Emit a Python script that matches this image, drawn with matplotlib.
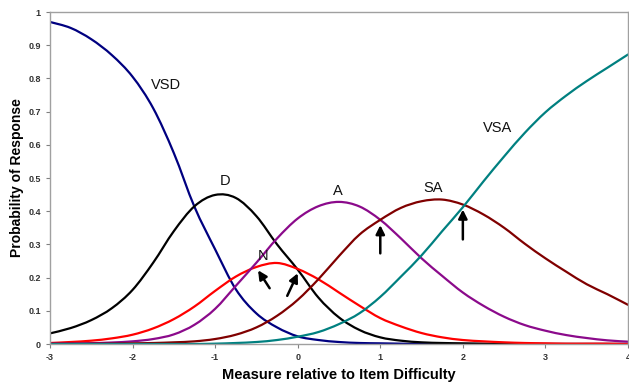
import matplotlib
matplotlib.use('Agg')
import matplotlib.pyplot as plt
from matplotlib.path import Path
from matplotlib.patches import PathPatch

plt.rcParams['font.family'] = ['Liberation Sans', 'DejaVu Sans']
plt.rcParams['axes.unicode_minus'] = False

# measure (logits) at which the curves were read
measure = [-3, -2.75, -2.5, -2.25, -2, -1.75, -1.5, -1.25, -1, -0.75, -0.5, -0.25,
           0, 0.25, 0.5, 0.75, 1, 1.25, 1.5, 1.75, 2, 2.25, 2.5, 2.75, 3, 3.25,
           3.5, 3.75, 4]

p_vsd = [0.97, 0.952, 0.918, 0.87, 0.805, 0.71, 0.575, 0.413, 0.285, 0.165, 0.092,
         0.05, 0.023, 0.012, 0.006, 0.003, 0.002, 0.001, 0, 0, 0, 0, 0, 0, 0, 0,
         0, 0, 0]
p_d = [0.032, 0.048, 0.072, 0.108, 0.163, 0.245, 0.34, 0.415, 0.449, 0.44, 0.385,
       0.3, 0.224, 0.14, 0.08, 0.042, 0.02, 0.01, 0.005, 0.003, 0.002, 0.001, 0, 0,
       0, 0, 0, 0, 0]
p_n = [0.003, 0.006, 0.01, 0.017, 0.028, 0.047, 0.075, 0.113, 0.16, 0.203, 0.232,
       0.244, 0.226, 0.195, 0.155, 0.115, 0.078, 0.053, 0.033, 0.02, 0.012, 0.008,
       0.005, 0.003, 0.002, 0.001, 0.001, 0.001, 0]
p_a = [0.001, 0.0015, 0.0025, 0.0045, 0.008, 0.015, 0.029, 0.058, 0.106, 0.175,
       0.245, 0.318, 0.378, 0.415, 0.428, 0.414, 0.374, 0.318, 0.258, 0.205, 0.155,
       0.115, 0.082, 0.057, 0.04, 0.027, 0.018, 0.011, 0.007]
p_sa = [0.0003, 0.0005, 0.0008, 0.0012, 0.002, 0.003, 0.005, 0.008, 0.015, 0.028,
        0.05, 0.085, 0.133, 0.195, 0.265, 0.33, 0.374, 0.41, 0.43, 0.435, 0.42,
        0.39, 0.35, 0.302, 0.258, 0.218, 0.18, 0.15, 0.118]
p_vsa = [0, 0, 0, 0, 0, 0, 0, 0, 0.001, 0.003, 0.006, 0.012, 0.022, 0.036, 0.06,
         0.093, 0.142, 0.203, 0.267, 0.34, 0.412, 0.49, 0.565, 0.636, 0.698, 0.748,
         0.792, 0.832, 0.872]

curves = [p_vsd, p_d, p_n, p_a, p_sa, p_vsa]
colors = ['#000080', '#000000', '#ff0000', '#8b0a8b', '#800000', '#008080']

names = ['VSD', 'D', 'N', 'A', 'SA', 'VSA']
name_x = [-1.6, -0.88, -0.42, 0.49, 1.64, 2.42]
name_y = [0.78, 0.49, 0.265, 0.462, 0.47, 0.65]

# arrows marking threshold crossings: (tail, head)
arrows = [((-0.34, 0.168), (-0.48, 0.222)),
          ((-0.127, 0.145), (0.0, 0.213)),
          ((1.0, 0.273), (1.0, 0.358)),
          ((2.0, 0.315), (2.0, 0.405))]


def smooth_line(xs, ys):
    # smoothed line through the points (Catmull-Rom as cubic Bezier segments)
    pts = list(zip(xs, ys))
    n = len(pts)
    verts = [pts[0]]
    codes = [Path.MOVETO]
    for i in range(n - 1):
        p0 = pts[i - 1] if i > 0 else pts[i]
        p1 = pts[i]
        p2 = pts[i + 1]
        p3 = pts[i + 2] if i + 2 < n else pts[i + 1]
        c1 = (p1[0] + (p2[0] - p0[0]) / 6, p1[1] + (p2[1] - p0[1]) / 6)
        c2 = (p2[0] - (p3[0] - p1[0]) / 6, p2[1] - (p3[1] - p1[1]) / 6)
        verts += [c1, c2, p2]
        codes += [Path.CURVE4] * 3
    return Path(verts, codes)


fig = plt.figure(figsize=(6.29, 3.85), dpi=100)
ax = fig.add_axes([50 / 629, 1 - 344 / 385, 578 / 629, 332 / 385])

for vals, c in zip(curves, colors):
    ax.add_patch(PathPatch(smooth_line(measure, vals), fill=False, edgecolor=c,
                           lw=1.6, capstyle='round'))

for t, xx, yy in zip(names, name_x, name_y):
    ax.text(xx, yy, t, fontsize=10.5, ha='center', va='center', color='#111111')

for tail, head in arrows:
    ax.annotate('', xy=head, xytext=tail,
                arrowprops=dict(arrowstyle='-|>', color='black', lw=1.8,
                                mutation_scale=13, shrinkA=0, shrinkB=0))

ax.set_xlim(-3, 4)
ax.set_ylim(0, 1)
ax.set_xticks(range(-3, 5))
ax.set_yticks([i / 10 for i in range(11)])
ax.set_yticklabels(['0'] + ['0.%d' % i for i in range(1, 10)] + ['1'])
ax.tick_params(labelsize=6.5, length=3, width=0.8, colors='#808080',
               labelcolor='#333333')
for lab in ax.get_xticklabels() + ax.get_yticklabels():
    lab.set_fontweight('bold')
for s in ax.spines.values():
    s.set_color('#a0a0a0')
    s.set_linewidth(1)

ax.set_xlabel('Measure relative to Item Difficulty', fontsize=10.5,
              fontweight='bold', labelpad=4)
ax.set_ylabel('Probability of Response', fontsize=10, fontweight='bold',
              labelpad=3)

fig.savefig('out.png', dpi=100)
